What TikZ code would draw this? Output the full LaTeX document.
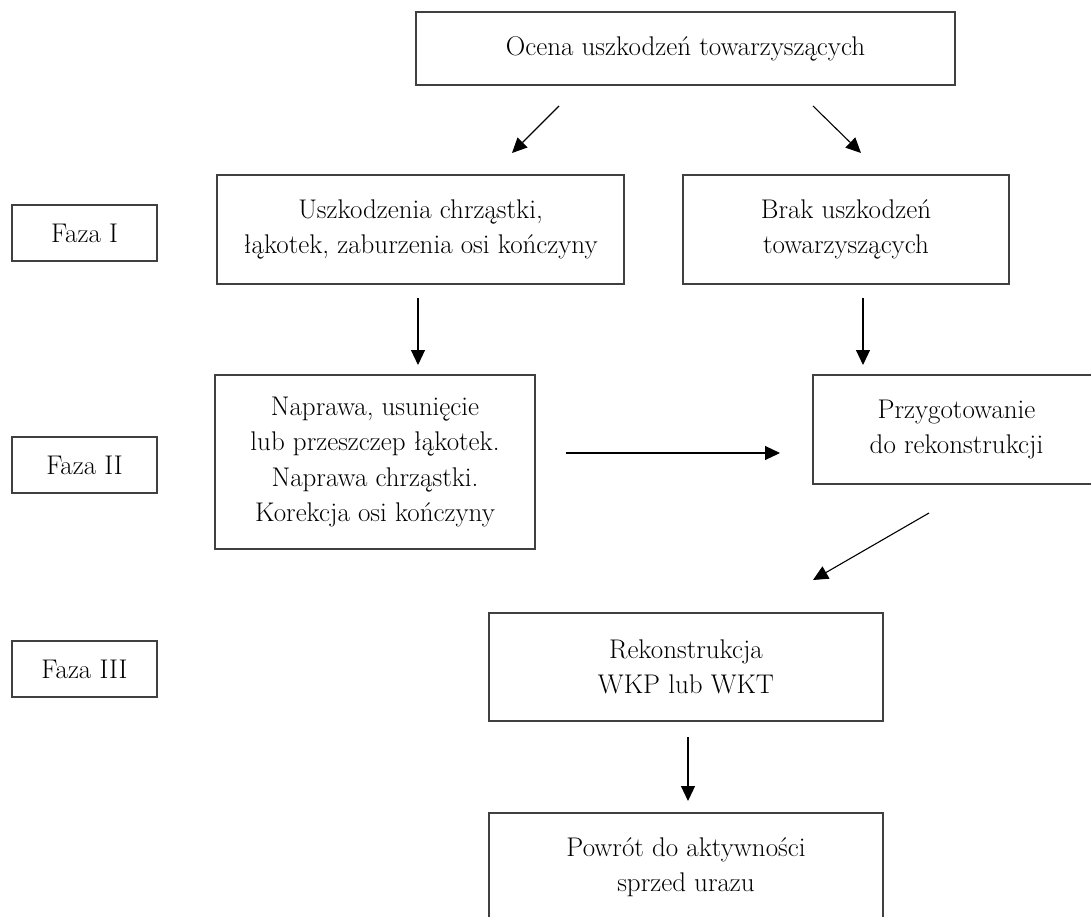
\documentclass[tikz,border=0pt]{standalone}
\usepackage{fontspec}
\usetikzlibrary{arrows.meta}

\begin{document}
\begin{tikzpicture}[x=1pt, y=-1pt]
        \tikzstyle{every node}=[font=\fontsize{27}{35.5}\selectfont, align=center, inner sep=0pt]
        \tikzstyle{box}=[draw=black!75, line width=1.1pt]
        \tikzstyle{faza}=[box, minimum width=145, minimum height=56]
        \tikzstyle{arr}=[line width=1.1pt, -{Triangle[length=15pt,width=14pt]}]
        \useasboundingbox (0,0) rectangle (1091,917);
        % boxes
        \node [box, minimum width=539, minimum height=73] (ocena) at (685.5,48.5) {Ocena uszkodzeń towarzyszących};
        \node [box, minimum width=407, minimum height=109] (uszk) at (420.5,229.5) {Uszkodzenia chrząstki,\\łąkotek, zaburzenia osi kończyny};
        \node [box, minimum width=326, minimum height=109] (brak) at (846,229.5) {Brak uszkodzeń\\towarzyszących};
        \node [box, minimum width=320, minimum height=174] (naprawa) at (375,462) {Naprawa, usunięcie\\lub przeszczep łąkotek.\\Naprawa chrząstki.\\Korekcja osi kończyny};
        \node [box, minimum width=287, minimum height=109] (przyg) at (956.5,429.5) {Przygotowanie\\do rekonstrukcji};
        \node [box, minimum width=394, minimum height=108] (rekon) at (686,667) {Rekonstrukcja\\WKP lub WKT};
        \node [box, minimum width=394, minimum height=108] (powrot) at (686,867) {Powrót do aktywności\\sprzed urazu};
        % phases
        \node [faza] (faza1) at (84.5,233) {Faza I};
        \node [faza] (faza2) at (84.5,465) {Faza II};
        \node [faza] (faza3) at (84.5,669) {Faza III};
        % arrow ends
        \coordinate (a1) at (559,106); \coordinate (b1) at (512,153);
        \coordinate (a2) at (813,106); \coordinate (b2) at (861,153);
        \coordinate (a3) at (418,298); \coordinate (b3) at (418,365);
        \coordinate (a4) at (863,298); \coordinate (b4) at (863,365);
        \coordinate (a5) at (566,453); \coordinate (b5) at (780,453);
        \coordinate (a6) at (929,513); \coordinate (b6) at (813,580);
        \coordinate (a7) at (688,737); \coordinate (b7) at (688,801);
        \foreach \i in {1,...,7}
            \draw [arr] (a\i) -- (b\i);
\end{tikzpicture}
\end{document}
